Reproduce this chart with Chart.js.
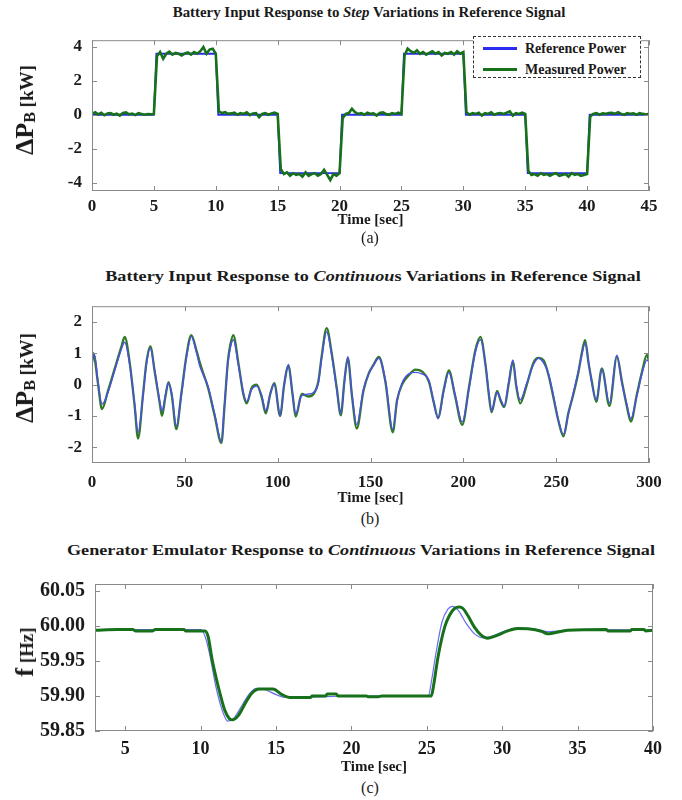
<!DOCTYPE html>
<html>
<head>
<meta charset="utf-8">
<script src="https://cdn.jsdelivr.net/npm/chart.js@4"></script>
<style>
  body { margin: 0; background: #fff; }
  #fig { position: relative; width: 682px; height: 800px; background: #fff; overflow: hidden;
         font-family: "Liberation Serif", "Times New Roman", serif; color: #1a1a1a; }
  canvas { position: absolute; left: 0; }
  .ttl { position: absolute; height: 18px; line-height: 18px; font-weight: bold; font-size: 15px;
         white-space: nowrap; transform: translateX(-50%); }
  .ttl span { display: inline-block; transform-origin: center; }
  .cap { position: absolute; width: 40px; margin-left: -20px; text-align: center; font-size: 16px; line-height: 18px; }
  .ylab { position: absolute; font-weight: bold; white-space: nowrap; line-height: 1;
          transform: translate(-50%, -50%) rotate(-90deg); }
  .ylab .big { font-size: 26px; }
  .ylab sub { font-size: 16px; vertical-align: -2px; }
  .ylab .unit { font-size: 19px; }
  .legend { position: absolute; z-index: 2; box-sizing: border-box; border: 1.5px dashed #333;
            background: #fff; padding: 1px 0 0 9px; font-weight: bold; font-size: 14px; }
  .legend div { height: 21px; display: flex; align-items: center; }
  .legend i { display: inline-block; width: 34px; height: 3px; margin-right: 8px; }
</style>
</head>
<body>
<div id="fig">
  <div class="ttl" style="left:369px;top:3px"><span data-w="393">Battery Input Response to <i>Step</i> Variations in Reference Signal</span></div>
  <canvas id="chartA" width="682" height="210" style="top:20px"></canvas>
  <div class="ylab" style="left:25px;top:110px"><span class="big">ΔP</span><sub>B</sub><span class="unit"> [kW]</span></div>
  <div class="legend" style="left:473px;top:36px;width:168px;height:42px">
    <div><i style="background:#2b2bf0"></i>Reference Power</div>
    <div><i style="background:#17701a"></i>Measured Power</div>
  </div>
  <div class="cap" style="left:370px;top:229px">(a)</div>

  <div class="ttl" style="left:373px;top:267px"><span data-w="535">Battery Input Response to <i>Continuou</i>s Variations in Reference Signal</span></div>
  <canvas id="chartB" width="682" height="222" style="top:286px"></canvas>
  <div class="ylab" style="left:25px;top:378px"><span class="big">ΔP</span><sub>B</sub><span class="unit"> [kW]</span></div>
  <div class="cap" style="left:370px;top:510px">(b)</div>

  <div class="ttl" style="left:361px;top:541px"><span data-w="588">Generator Emulator Response to <i>Continuous</i> Variations in Reference Signal</span></div>
  <canvas id="chartC" width="682" height="215" style="top:562px"></canvas>
  <div class="ylab" style="left:25px;top:652px"><span class="big">f</span><span class="unit"> [Hz]</span></div>
  <div class="cap" style="left:370px;top:779px">(c)</div>
</div>

<script>
const FONT = "'Liberation Serif', 'Times New Roman', serif";
const INK = '#1a1a1a';
const BLUE = '#2b2bf0';
const GREEN = '#17701a';

// ---- (a) step variations ----
const stepTimeA = 0.25;
const measPowerA = [
  0.05, 0.15, 0.02, 0.12, -0.03, 0.08, 0.1, 0.0, 0.06, -0.05, 0.1, 0.14, 0.03, 0.07, -0.02, 0.09, 0.05, 0.0, 0.04, 0.02, 0.05,
  3.45, 3.7, 3.3, 3.6, 3.72, 3.55, 3.65, 3.6, 3.5, 3.62, 3.68, 3.55, 3.7, 3.6, 3.75, 4.0, 3.6, 3.85, 3.9, 3.6,
  0.2, 0.1, 0.15, 0.05, 0.08, 0.12, 0.0, 0.1, 0.05, 0.14, -0.02, 0.08, 0.1, -0.15, 0.05, 0.1, 0.0, 0.08, 0.12, 0.05,
  -3.2, -3.5, -3.4, -3.6, -3.45, -3.55, -3.5, -3.65, -3.4, -3.6, -3.5, -3.45, -3.6, -3.5, -3.25, -3.55, -3.85, -3.5, -3.6, -3.45,
  -0.2, 0.05, 0.1, 0.35, 0.15, 0.05, 0.1, 0.0, 0.12, 0.05, 0.08, -0.05, 0.1, 0.14, 0.05, 0.0, 0.1, 0.05, 0.12, 0.05,
  3.5, 3.9, 3.75, 3.65, 3.8, 3.6, 3.7, 3.55, 3.65, 3.75, 3.6, 3.7, 3.5, 3.65, 3.6, 3.7, 3.55, 3.75, 3.6, 3.7,
  0.15, 0.0, 0.1, 0.05, 0.12, -0.05, 0.1, 0.05, 0.15, 0.0, 0.08, 0.1, 0.05, 0.12, 0.2, -0.05, 0.1, 0.05, 0.12, 0.05,
  -3.3, -3.55, -3.5, -3.6, -3.45, -3.55, -3.5, -3.6, -3.5, -3.45, -3.6, -3.55, -3.5, -3.65, -3.45, -3.55, -3.5, -3.6, -3.55, -3.5,
  -0.1, 0.05, 0.1, 0.0, 0.08, 0.05, 0.1, 0.12, 0.05, 0.15, 0.05, 0.0, 0.1, 0.05, 0.08, 0.0, 0.1, 0.05, 0.02, 0.05
];
const refTimeA  = [0, 5, 5.2, 10, 10.2, 15, 15.2, 20, 20.2, 25, 25.2, 30, 30.2, 35, 35.2, 40, 40.2, 45];
const refPowerA = [0, 0, 3.6, 3.6, 0, 0, -3.45, -3.45, 0, 0, 3.6, 3.6, 0, 0, -3.45, -3.45, 0, 0];
const xTicksA = [0, 5, 10, 15, 20, 25, 30, 35, 40, 45];
const yTicksA = [-4, -2, 0, 2, 4];

// ---- (b) continuous variations, battery ----
const timeB = [
  0, 0.6, 1.4, 3.2, 5.4, 8.6, 12.2, 15.8, 17.6, 20.3, 23, 24.8, 27.5, 29.3, 31.4, 33.8, 36.5, 37.7, 39.5, 41.2,
  43, 45.4, 48.1, 50.8, 53.5, 56.2, 58, 60, 62.5, 66.1, 69.7, 71.3, 73.2, 74.6, 76.1, 78.8, 81.5, 83.3, 86, 88.7,
  91.4, 93.6, 96, 98.2, 101.3, 103.5, 105.8, 108, 109.7, 113, 116.6, 119.3, 121.9, 123.7, 126.4, 129.1, 131.8, 134, 136, 137.8,
  140, 142.6, 146.2, 149, 151.5, 154.5, 158, 162, 164.3, 167, 170.6, 174.2, 177.7, 181.4, 184, 186.4, 189.5, 192.2, 195.5, 199.4,
  203, 206.5, 209.2, 212, 213.7, 215.2, 218.2, 220, 222, 224.5, 226.7, 228.5, 230.6, 234.2, 237.8, 240.5, 243.2, 245.9, 248.5, 251.2,
  253.9, 256.6, 259.3, 262, 263.8, 265.6, 267.4, 269.2, 271.6, 274.6, 278.7, 282.7, 285.4, 288.1, 290.2, 293.5, 296.2, 298.9, 300
];
const refPowerB = [
  0.6, 0.94, 0.95, 0.1, -0.62, -0.25, 0.44, 1.13, 1.35, 0.64, -0.64, -1.53, -0.35, 0.64, 1.16, 0.44, -0.54, -0.84, -0.35, 0.05,
  -0.3, -1.33, -0.35, 0.84, 1.53, 1.04, 0.6, 0.3, -0.05, -0.94, -1.83, -0.7, 0.7, 1.2, 1.43, 0.64, -0.25, -0.54, -0.15, -0.05,
  -0.35, -0.84, -0.3, 0.03, -0.99, 0.0, 0.64, -0.3, -0.94, -0.35, -0.3, -0.25, 0.05, 0.84, 1.68, 0.94, -0.15, -0.94, 0.1, 0.89,
  -0.3, -1.28, -0.15, 0.34, 0.6, 0.84, 0.15, -1.43, -0.54, 0.05, 0.34, 0.39, 0.34, 0.15, -0.54, -1.09, -0.2, 0.39, -0.3, -1.19,
  -0.15, 1.04, 1.43, 0.64, -0.25, -0.84, -0.25, -0.45, -0.69, 0.1, 0.79, 0.0, -0.49, 0.05, 0.64, 0.84, 0.69, 0.34, -0.35, -1.14,
  -1.58, -0.94, -0.25, 0.44, 0.94, 1.33, 0.74, 0.05, -0.49, 0.49, -0.59, 0.94, 0.05, -0.64, -1.09, -0.35, 0.34, 0.79, 0.7
];
const measPowerB = [
  0.7, 1.0, 0.85, 0.05, -0.78, -0.2, 0.5, 1.2, 1.52, 0.7, -0.7, -1.72, -0.3, 0.7, 1.22, 0.4, -0.6, -1.0, -0.4, 0.08,
  -0.35, -1.42, -0.3, 0.9, 1.58, 1.1, 0.72, 0.35, -0.1, -1.0, -1.86, -0.75, 0.75, 1.3, 1.58, 0.7, -0.3, -0.6, -0.1, 0.0,
  -0.4, -0.92, -0.3, 0.05, -1.0, 0.0, 0.6, -0.3, -1.02, -0.3, -0.38, -0.3, 0.1, 0.9, 1.8, 1.0, -0.1, -0.98, 0.15, 0.85,
  -0.35, -1.4, -0.2, 0.35, 0.62, 0.88, 0.1, -1.52, -0.5, 0.0, 0.3, 0.48, 0.42, 0.1, -0.55, -1.05, -0.15, 0.45, -0.35, -1.28,
  -0.1, 1.1, 1.52, 0.6, -0.3, -0.88, -0.2, -0.5, -0.72, 0.05, 0.75, -0.05, -0.6, 0.0, 0.7, 0.85, 0.78, 0.3, -0.4, -1.15,
  -1.65, -0.9, -0.3, 0.4, 1.0, 1.42, 0.7, 0.1, -0.55, 0.52, -0.68, 0.9, 0.1, -0.7, -1.18, -0.3, 0.4, 0.95, 0.75
];
const xTicksB = [0, 50, 100, 150, 200, 250, 300];
const yTicksB = [-2, -1, 0, 1, 2];

// ---- (c) generator emulator frequency ----
const refTimeC = [3, 10.0, 10.3, 10.6, 11.0, 11.4, 11.8, 12.2, 12.7, 13.2, 13.7, 14.3, 15.0, 15.6, 16.5, 20, 25.1,
  25.3, 25.6, 26.0, 26.4, 26.7, 27.1, 27.6, 28.2, 28.8, 29.4, 30.2, 31.0, 32.0, 33.0, 34.0, 35.0, 40];
const refFreqC = [59.995, 59.995, 59.985, 59.96, 59.915, 59.882, 59.864, 59.868, 59.885, 59.902, 59.911, 59.909, 59.902,
  59.898, 59.898, 59.900, 59.900, 59.92, 59.96, 60.005, 60.024, 60.028, 60.022, 60.004, 59.988, 59.983, 59.986, 59.993,
  59.997, 59.996, 59.992, 59.993, 59.995, 59.994];
const measTimeC = [3, 4.5, 5.5, 5.7, 6.8, 7.0, 8.9, 9.0, 10.3, 10.5, 10.75, 11.2, 11.6, 11.9, 12.1, 12.5, 12.95, 13.4,
  13.9, 14.8, 15.4, 15.9, 17.3, 17.4, 18.3, 18.4, 19.0, 19.1, 21.0, 21.1, 21.8, 22, 25.3, 25.45, 25.73, 26.18, 26.5,
  26.84, 27.17, 27.4, 27.72, 28.17, 28.6, 29.05, 29.7, 30.37, 31.03, 31.7, 32.6, 33.0, 33.4, 34.35, 36.9, 37.0, 38.5,
  38.6, 39.4, 39.5, 40];
const measFreqC = [59.994, 59.995, 59.995, 59.993, 59.993, 59.995, 59.995, 59.993, 59.993, 59.985, 59.954, 59.911,
  59.880, 59.868, 59.866, 59.872, 59.889, 59.904, 59.910, 59.910, 59.902, 59.898, 59.898, 59.900, 59.900, 59.903,
  59.903, 59.900, 59.900, 59.899, 59.899, 59.900, 59.900, 59.915, 59.954, 59.998, 60.015, 60.025, 60.027, 60.025,
  60.015, 59.998, 59.987, 59.9825, 59.987, 59.993, 59.9965, 59.996, 59.9925, 59.989, 59.990, 59.994, 59.995, 59.993,
  59.993, 59.995, 59.995, 59.993, 59.994];
const xTicksC = [5, 10, 15, 20, 25, 30, 35, 40];
const yTicksC = [59.85, 59.90, 59.95, 60.00, 60.05];

// stretch the titles to the width they have in the figure
document.querySelectorAll('.ttl span').forEach(s => {
  s.style.transform = 'scaleX(' + (Number(s.dataset.w) / s.offsetWidth) + ')';
});

function toPoints(xs, ys) {
  return ys.map((y, i) => ({ x: xs[i], y: y }));
}

// frame with inward ticks on all four sides (MATLAB style)
const boxPlugin = {
  id: 'box',
  afterDatasetsDraw(chart) {
    const { ctx, chartArea: a, scales } = chart;
    ctx.save();
    ctx.strokeStyle = '#8a8a8a';
    ctx.lineWidth = 1;
    ctx.strokeRect(a.left + 0.5, a.top + 0.5, a.width - 1, a.height - 1);
    ctx.beginPath();
    scales.x.ticks.forEach(t => {
      const px = Math.round(scales.x.getPixelForValue(t.value)) + 0.5;
      ctx.moveTo(px, a.bottom); ctx.lineTo(px, a.bottom - 5);
      ctx.moveTo(px, a.top); ctx.lineTo(px, a.top + 5);
    });
    scales.y.ticks.forEach(t => {
      const py = Math.round(scales.y.getPixelForValue(t.value)) + 0.5;
      ctx.moveTo(a.left, py); ctx.lineTo(a.left + 5, py);
      ctx.moveTo(a.right, py); ctx.lineTo(a.right - 5, py);
    });
    ctx.stroke();
    ctx.restore();
  }
};

function makeChart(id, o) {
  return new Chart(document.getElementById(id), {
    type: 'line',
    data: { datasets: o.datasets },
    options: {
      responsive: false,
      animation: false,
      devicePixelRatio: 1,
      layout: { padding: { left: 0, right: o.padRight, top: 8, bottom: 0 } },
      elements: { point: { radius: 0 } },
      plugins: { legend: { display: false }, tooltip: { enabled: false } },
      scales: {
        x: {
          type: 'linear', min: o.xMin, max: o.xMax,
          afterBuildTicks: s => { s.ticks = o.xTicks.map(v => ({ value: v })); },
          afterFit: s => { s.height = o.xAxisH; },
          grid: { display: false, drawTicks: false },
          border: { display: false },
          ticks: { color: INK, padding: o.xPad, maxRotation: 0, autoSkip: false,
                   font: { family: FONT, weight: 'bold', size: o.tickSize } },
          title: { display: true, text: 'Time [sec]', color: INK, padding: { top: 0, bottom: 1 },
                   font: { family: FONT, weight: 'bold', size: 15 } }
        },
        y: {
          type: 'linear', min: o.yMin, max: o.yMax,
          afterBuildTicks: s => { s.ticks = o.yTicks.map(v => ({ value: v })); },
          afterFit: s => { s.width = o.yAxisW; },
          grid: { display: false, drawTicks: false },
          border: { display: false },
          ticks: { color: INK, padding: 10, callback: o.yFmt,
                   font: { family: FONT, weight: 'bold', size: o.yTickSize || o.tickSize } }
        }
      }
    },
    plugins: [boxPlugin]
  });
}

makeChart('chartA', {
  xMin: 0, xMax: 45, yMin: -4.5, yMax: 4.4,
  xTicks: xTicksA, yTicks: yTicksA, yAxisW: 92, padRight: 33, xAxisH: 39, xPad: 5, tickSize: 17,
  datasets: [
    { label: 'Measured Power', data: measPowerA.map((v, i) => ({ x: i * stepTimeA, y: v })),
      borderColor: GREEN, borderWidth: 2.6, tension: 0 },
    { label: 'Reference Power', data: toPoints(refTimeA, refPowerA),
      borderColor: BLUE, borderWidth: 1.8, tension: 0 }
  ]
});

makeChart('chartB', {
  xMin: 0, xMax: 300, yMin: -2.5, yMax: 2.5,
  xTicks: xTicksB, yTicks: yTicksB, yAxisW: 92, padRight: 33, xAxisH: 45, xPad: 9, tickSize: 17,
  datasets: [
    { label: 'Reference Power', data: toPoints(timeB, refPowerB),
      borderColor: '#4d4df0', borderWidth: 1.4, cubicInterpolationMode: 'monotone' },
    { label: 'Measured Power', data: toPoints(timeB, measPowerB),
      borderColor: '#2f7a25', borderWidth: 2.3, cubicInterpolationMode: 'monotone' }
  ]
});

makeChart('chartC', {
  xMin: 3, xMax: 40, yMin: 59.85, yMax: 60.06,
  xTicks: xTicksC, yTicks: yTicksC, yAxisW: 95, padRight: 29, xAxisH: 46, xPad: 8, tickSize: 18, yTickSize: 20,
  yFmt: v => v.toFixed(2),
  datasets: [
    { label: 'Measured', data: toPoints(measTimeC, measFreqC),
      borderColor: GREEN, borderWidth: 3, cubicInterpolationMode: 'monotone' },
    { label: 'Reference', data: toPoints(refTimeC, refFreqC),
      borderColor: '#6b6bf5', borderWidth: 1.2, cubicInterpolationMode: 'monotone' }
  ]
});
</script>
</body>
</html>
